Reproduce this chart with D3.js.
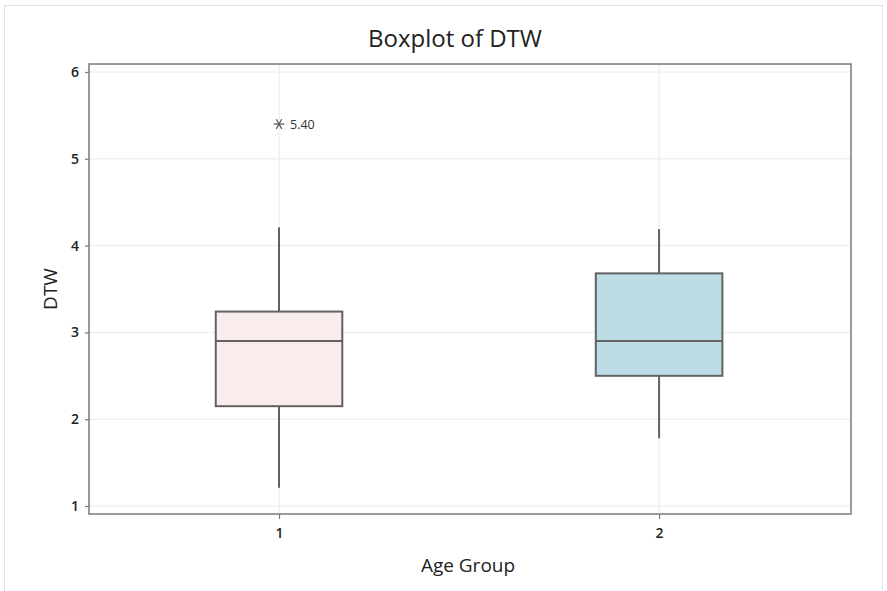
<!DOCTYPE html>
<html><head><meta charset="utf-8">
<script src="https://cdn.jsdelivr.net/npm/d3@7"></script>
<style>body{margin:0;background:#fff;} svg{display:block;font-family:"Open Sans","Noto Sans",sans-serif;}</style>
</head><body>
<svg id="c" width="887" height="591"></svg>
<script>
const categories = [1, 2];
const q1 = [2.15, 2.50];
const medians = [2.90, 2.90];
const q3 = [3.24, 3.68];
const whiskerLow = [1.21, 1.78];
const whiskerHigh = [4.21, 4.19];
const fills = ["#f9eced", "#bddce6"];
const outliers = [{cat: 1, value: 5.40, label: "5.40"}];
const yTicks = [1, 2, 3, 4, 5, 6];

const svg = d3.select("#c");
const m = {l: 89, r: 851, t: 64, b: 514};
const x = d3.scaleLinear().domain([0.5, 2.505]).range([m.l, m.r]);
const y = d3.scaleLinear().domain([0.908, 6.092]).range([m.b, m.t]);

// outer border
svg.append("rect").attr("x", 4.5).attr("y", 5.5).attr("width", 878).attr("height", 590)
  .attr("fill", "none").attr("stroke", "#e2e2e2");

// gridlines
svg.append("g").selectAll("line").data(yTicks).join("line")
  .attr("x1", m.l).attr("x2", m.r).attr("y1", d => y(d)).attr("y2", d => y(d))
  .attr("stroke", "#f0f0f0").attr("stroke-width", 1.5);
svg.append("g").selectAll("line").data(categories).join("line")
  .attr("x1", d => x(d)).attr("x2", d => x(d)).attr("y1", m.t).attr("y2", m.b)
  .attr("stroke", "#f0f0f0").attr("stroke-width", 1.5);

// frame
svg.append("rect").attr("x", m.l).attr("y", m.t).attr("width", m.r - m.l).attr("height", m.b - m.t)
  .attr("fill", "none").attr("stroke", "#7a7a7a").attr("stroke-width", 1.5);

// axes
const yAxis = svg.append("g").attr("transform", `translate(${m.l},0)`)
  .call(d3.axisLeft(y).tickValues(yTicks).tickSize(4).tickPadding(6).tickFormat(d3.format("d")));
const xAxis = svg.append("g").attr("transform", `translate(0,${m.b})`)
  .call(d3.axisBottom(x).tickValues(categories).tickSize(5).tickPadding(9).tickFormat(d3.format("d")));
[yAxis, xAxis].forEach(g => {
  g.select(".domain").remove();
  g.selectAll(".tick line").attr("stroke", "#7a7a7a").attr("stroke-width", 1.2);
  g.selectAll(".tick text").attr("fill", "#222").attr("font-size", 14).attr("font-weight", 600)
   .attr("font-family", "'Open Sans','Noto Sans',sans-serif");
});

// boxes
const bw = 0.333;
const stroke = "#626262";
const gb = svg.append("g");
categories.forEach((c, i) => {
  const g = gb.append("g");
  g.append("line").attr("x1", x(c)).attr("x2", x(c)).attr("y1", y(whiskerHigh[i])).attr("y2", y(q3[i]))
    .attr("stroke", stroke).attr("stroke-width", 2);
  g.append("line").attr("x1", x(c)).attr("x2", x(c)).attr("y1", y(q1[i])).attr("y2", y(whiskerLow[i]))
    .attr("stroke", stroke).attr("stroke-width", 2);
  g.append("rect").attr("x", x(c - bw / 2)).attr("width", x(c + bw / 2) - x(c - bw / 2))
    .attr("y", y(q3[i])).attr("height", y(q1[i]) - y(q3[i]))
    .attr("fill", fills[i]).attr("stroke", stroke).attr("stroke-width", 2);
  g.append("line").attr("x1", x(c - bw / 2)).attr("x2", x(c + bw / 2))
    .attr("y1", y(medians[i])).attr("y2", y(medians[i]))
    .attr("stroke", stroke).attr("stroke-width", 2);
});

// outliers
outliers.forEach(o => {
  const cx = x(o.cat), cy = y(o.value);
  const r = 5.5;
  const g = svg.append("g").attr("stroke", "#555").attr("stroke-width", 1.2);
  [0, 60, 120].forEach(a => {
    const rad = a * Math.PI / 180;
    g.append("line").attr("x1", cx - r * Math.cos(rad)).attr("y1", cy - r * Math.sin(rad))
      .attr("x2", cx + r * Math.cos(rad)).attr("y2", cy + r * Math.sin(rad));
  });
  svg.append("text").attr("x", cx + 11).attr("y", cy + 4.5).attr("font-size", 12.5).attr("fill", "#333")
    .text(o.label);
});

// titles
svg.append("text").attr("x", 455).attr("y", 47).attr("text-anchor", "middle")
  .attr("font-size", 24).attr("fill", "#222").text("Boxplot of DTW");
svg.append("text").attr("transform", `translate(57,${(m.t + m.b) / 2}) rotate(-90)`)
  .attr("text-anchor", "middle").attr("font-size", 19).attr("fill", "#222").text("DTW");
svg.append("text").attr("x", 468).attr("y", 572).attr("text-anchor", "middle")
  .attr("font-size", 19).attr("fill", "#222").text("Age Group");
</script>
</body></html>
